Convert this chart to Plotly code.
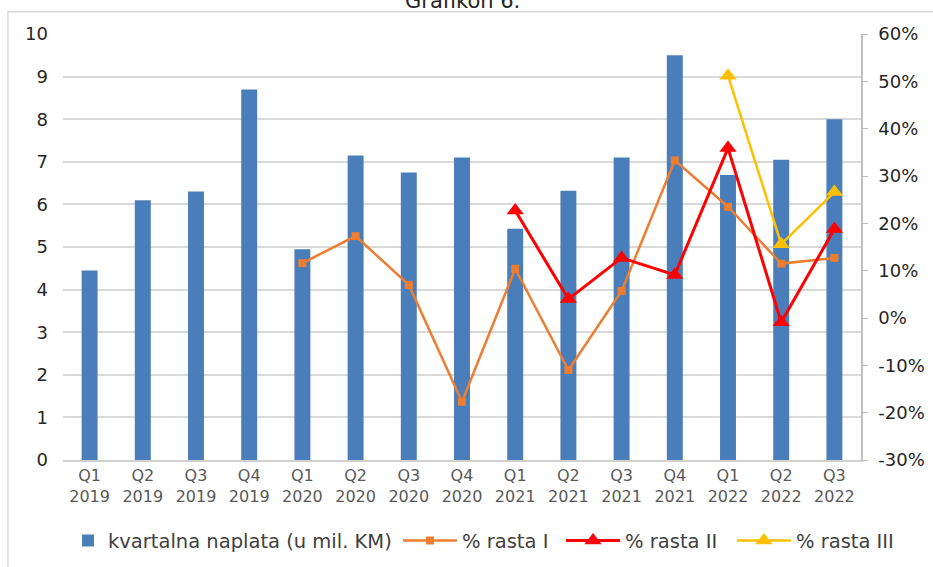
import plotly.graph_objects as go

categories = ["Q1<br>2019", "Q2<br>2019", "Q3<br>2019", "Q4<br>2019",
              "Q1<br>2020", "Q2<br>2020", "Q3<br>2020", "Q4<br>2020",
              "Q1<br>2021", "Q2<br>2021", "Q3<br>2021", "Q4<br>2021",
              "Q1<br>2022", "Q2<br>2022", "Q3<br>2022"]

naplata = [4.45, 6.1, 6.3, 8.7, 4.95, 7.15, 6.75, 7.1, 5.43, 6.32, 7.1, 9.5, 6.69, 7.05, 8.0]

rasta_1 = [None, None, None, None, 11.6, 17.3, 7.0, -17.7, 10.4, -11.0, 5.7, 33.3, 23.5, 11.5, 12.7]
rasta_2 = [None] * 8 + [22.7, 4.0, 12.7, 9.1, 35.9, -0.9, 18.8]
rasta_3 = [None] * 12 + [51.2, 15.6, 26.6]

left_ticks = list(range(0, 11))
right_tickvals = [-30, -20, -10, 0, 10, 20, 30, 40, 50, 60]
right_ticktext = ["-30%", "-20%", "-10%", "0%", "10%", "20%", "30%", "40%", "50%", "60%"]

FONT = "DejaVu Sans, Verdana, sans-serif"

fig = go.Figure()
fig.add_trace(go.Bar(x=categories, y=naplata, name="kvartalna naplata (u mil. KM)",
                     marker=dict(color="#4a7ebb", line=dict(width=0)), yaxis="y",
                     legend="legend"))
fig.add_trace(go.Scatter(x=categories, y=rasta_1, name="% rasta I", yaxis="y2",
                         mode="lines+markers", legend="legend2",
                         line=dict(color="#ed7d31", width=2.5),
                         marker=dict(symbol="square", size=8, color="#ed7d31")))
fig.add_trace(go.Scatter(x=categories, y=rasta_2, name="% rasta II", yaxis="y2",
                         mode="lines+markers", legend="legend3",
                         line=dict(color="#ff0000", width=3),
                         marker=dict(symbol="triangle-up", size=15, color="#ff0000")))
fig.add_trace(go.Scatter(x=categories, y=rasta_3, name="% rasta III", yaxis="y2",
                         mode="lines+markers", legend="legend4",
                         line=dict(color="#ffc000", width=2.5),
                         marker=dict(symbol="triangle-up", size=15, color="#ffc000")))

leg_font = dict(size=19.5, color="#404040")


def leg(x, iw):
    return dict(orientation="h", x=x, xanchor="left", y=-0.19, yanchor="middle",
                font=leg_font, itemwidth=iw, bgcolor="rgba(0,0,0,0)")


fig.update_layout(
    width=933, height=567,
    margin=dict(l=63, r=72, t=34, b=107, autoexpand=False),
    paper_bgcolor="white", plot_bgcolor="white",
    font=dict(family=FONT, size=18, color="#404040"),
    bargap=0.7,
    showlegend=True,
    legend=leg(0.0063, 30),
    legend2=leg(0.4198, 54),
    legend3=leg(0.6241, 54),
    legend4=leg(0.8383, 54),
    xaxis=dict(type="category", range=[-0.5, 14.5], autorange=False, automargin=False,
               showgrid=False, showline=True, linecolor="#d0d0d0",
               linewidth=1.5, ticks="", tickfont=dict(size=16, color="#595959"),
               tickangle=0),
    yaxis=dict(range=[0, 10], autorange=False, automargin=False, tickvals=left_ticks,
               showgrid=True, gridcolor="#d9d9d9",
               gridwidth=1.5, zeroline=False, showline=False, ticks="",
               ticklabelstandoff=14, tickfont=dict(size=18, color="#262626")),
    yaxis2=dict(range=[-30, 60], autorange=False, automargin=False, overlaying="y",
                side="right", tickvals=right_tickvals,
                ticktext=right_ticktext, showgrid=False, zeroline=False, showline=True,
                linecolor="#bfbfbf", linewidth=1.5, ticks="outside", ticklen=5,
                tickcolor="#bfbfbf", ticklabelstandoff=7,
                tickfont=dict(size=18, color="#262626")),
    shapes=[dict(type="rect", xref="paper", yref="paper",
                 x0=-0.069, x1=1.3, y0=-0.4, y1=1.052,
                 line=dict(color="#d9d9d9", width=1.5), fillcolor="rgba(0,0,0,0)",
                 layer="below")],
    annotations=[dict(text="Grafikon 6.", xref="paper", yref="paper", x=0.5, y=1.0446,
                      xanchor="center", yanchor="bottom", showarrow=False,
                      font=dict(size=21, color="#262626"))],
)

fig.write_html("out.html", config={"displayModeBar": False},
               post_script="document.body.style.margin='0';")
